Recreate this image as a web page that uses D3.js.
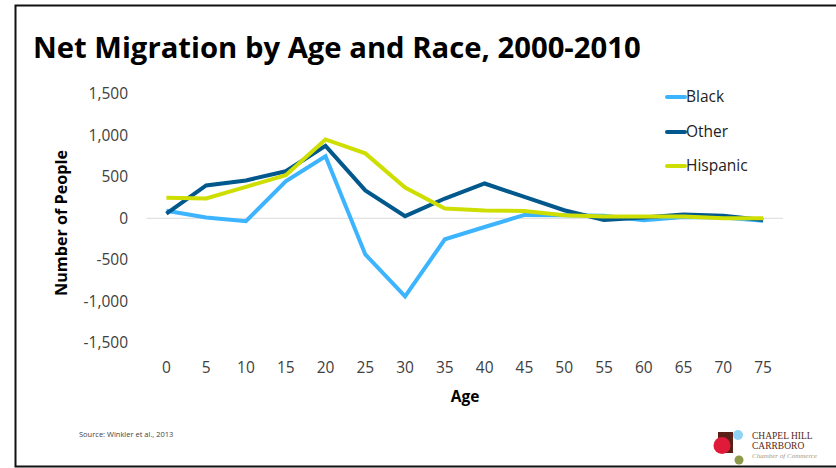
<!DOCTYPE html>
<html>
<head>
<meta charset="utf-8">
<script src="https://cdn.jsdelivr.net/npm/d3@7"></script>
<style>
  html, body { margin: 0; padding: 0; background: #fff; }
  svg { display: block; }
</style>
</head>
<body>
<svg id="chart" width="836" height="468"></svg>
<script>
// ---- Data ----
const ages = [0, 5, 10, 15, 20, 25, 30, 35, 40, 45, 50, 55, 60, 65, 70, 75];
const black =    [90, 10, -35, 445, 745, -435, -940, -253, -105, 40, 35, 30, -25, 15, 10, -30];
const other =    [55, 395, 455, 565, 870, 335, 25, 237, 418, 257, 96, -20, 10, 45, 30, -20];
const hispanic = [245, 237, 377, 518, 948, 780, 370, 117, 93, 88, 36, 20, 20, 20, 0, 0];
const seriesNames = ["Black", "Other", "Hispanic"];
const yTicks = [1500, 1000, 500, 0, -500, -1000, -1500];

const colors = { Black: "#3db4ff", Other: "#00588c", Hispanic: "#cede00" };
const seriesData = { Black: black, Other: other, Hispanic: hispanic };

const svg = d3.select("#chart");
const font = "'Open Sans', 'DejaVu Sans', sans-serif";

// frame
svg.append("rect").attr("x", 15.5).attr("y", 5.5).attr("width", 840).attr("height", 461)
  .attr("fill", "none").attr("stroke", "#111").attr("stroke-width", 2);

// title
const title = svg.append("text").attr("x", 33).attr("y", 58)
  .attr("font-family", font).attr("font-weight", "bold").attr("font-size", 24)
  .attr("fill", "#000").text("Net Migration by Age and Race, 2000-2010");
const tw = title.node().getComputedTextLength();
title.attr("font-size", 24 * 608 / tw);

// scales
const x = d3.scaleBand().domain(ages).range([146.5, 783]);
const y = d3.scaleLinear().domain([-1500, 1500]).range([343, 93.5]);
const cx = a => x(a) + x.bandwidth() / 2;

// zero line
svg.append("line").attr("x1", 146.5).attr("x2", 783).attr("y1", y(0)).attr("y2", y(0))
  .attr("stroke", "#d9d9d9").attr("stroke-width", 1);

// y axis
const fmt = d3.format(",");
const yAxis = svg.append("g").attr("transform", "translate(136,0)")
  .call(d3.axisLeft(y).tickValues(yTicks).tickSize(0).tickPadding(8)
    .tickFormat(d => fmt(d).replace("\u2212", "-")));
yAxis.select(".domain").remove();
yAxis.selectAll("text").attr("font-family", font).attr("font-size", 15.5).attr("fill", "#404040");

// x axis
const xAxis = svg.append("g").attr("transform", "translate(0,358)")
  .call(d3.axisBottom(x).tickSize(0).tickPadding(4));
xAxis.select(".domain").remove();
xAxis.selectAll("text").attr("font-family", font).attr("font-size", 15.5).attr("fill", "#404040");

// axis titles
const yt = svg.append("text").attr("transform", "translate(67,223) rotate(-90)")
  .attr("text-anchor", "middle").attr("font-family", font).attr("font-weight", "bold")
  .attr("font-size", 15).attr("fill", "#000").text("Number of People");
const ytw = yt.node().getComputedTextLength();
yt.attr("font-size", 15 * 146 / ytw);
svg.append("text").attr("x", 465).attr("y", 402).attr("text-anchor", "middle")
  .attr("font-family", font).attr("font-weight", "bold").attr("font-size", 15.5)
  .attr("fill", "#000").text("Age");

// lines
const line = d3.line().x((d, i) => cx(ages[i])).y(d => y(d));
seriesNames.forEach(name => {
  svg.append("path").datum(seriesData[name])
    .attr("fill", "none").attr("stroke", colors[name]).attr("stroke-width", 4)
    .attr("stroke-linejoin", "miter").attr("d", line);
});

// legend
const legY = [97, 132, 166];
seriesNames.forEach((name, i) => {
  const g = svg.append("g").attr("transform", `translate(0,${legY[i]})`);
  g.append("line").attr("x1", 667).attr("x2", 685).attr("y1", 0).attr("y2", 0)
    .attr("stroke", colors[name]).attr("stroke-width", 4).attr("stroke-linecap", "round");
  g.append("text").attr("x", 686).attr("y", 0).attr("dy", "0.35em")
    .attr("font-family", font).attr("font-size", 15.5).attr("fill", "#222").text(name);
});

// source
svg.append("text").attr("x", 79).attr("y", 437).attr("font-family", font)
  .attr("font-size", 7.5).attr("fill", "#444").text("Source: Winkler et al., 2013");

// logo
const logo = svg.append("g");
logo.append("rect").attr("x", 718).attr("y", 432).attr("width", 15).attr("height", 21).attr("fill", "#5a1f16");
logo.append("circle").attr("cx", 738).attr("cy", 435).attr("r", 5).attr("fill", "#8fd3f5");
logo.append("circle").attr("cx", 722).attr("cy", 445.5).attr("r", 8.5).attr("fill", "#e01b3a");
logo.append("circle").attr("cx", 739).attr("cy", 460).attr("r", 4.5).attr("fill", "#8c9a4a");
const serif = "'Liberation Serif', 'DejaVu Serif', serif";
logo.append("text").attr("x", 752).attr("y", 439).attr("font-family", serif)
  .attr("font-size", 9.5).attr("fill", "#5a1f16").text("CHAPEL HILL");
logo.append("text").attr("x", 752).attr("y", 449).attr("font-family", serif)
  .attr("font-size", 9.5).attr("fill", "#5a1f16").text("CARRBORO");
logo.append("text").attr("x", 752).attr("y", 458).attr("font-family", serif)
  .attr("font-style", "italic").attr("font-size", 7).attr("fill", "#a89a80").text("Chamber of Commerce");
</script>
</body>
</html>
